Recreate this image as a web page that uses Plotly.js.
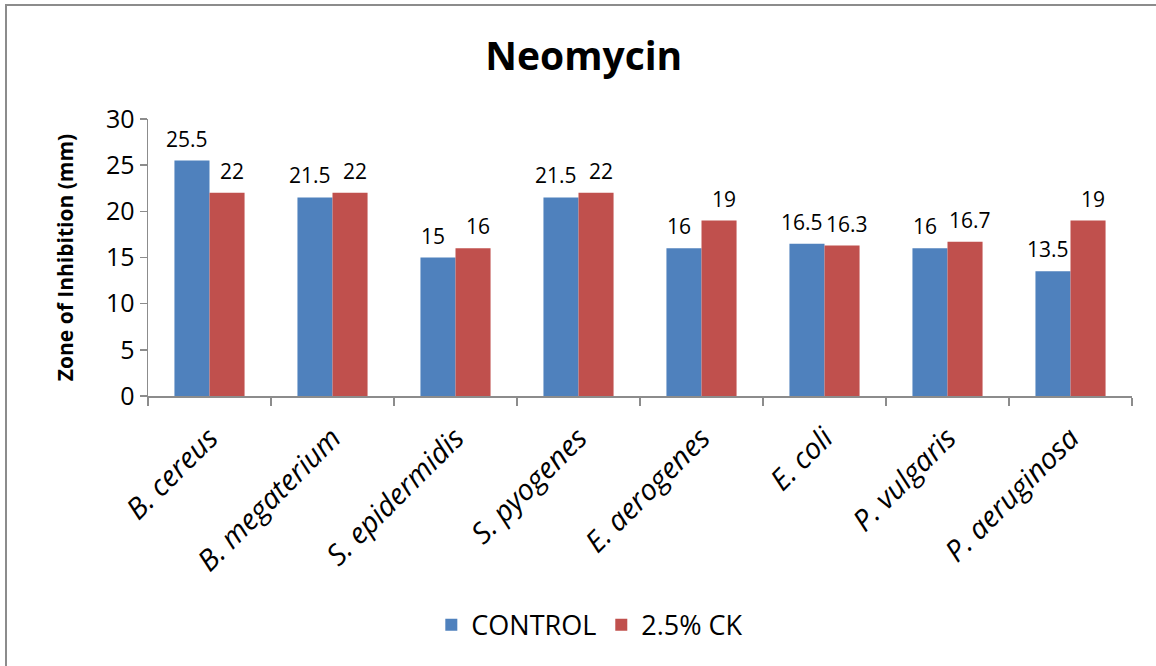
<!DOCTYPE html>
<html>
<head>
<meta charset="utf-8">
<script src="https://cdn.plot.ly/plotly-3.0.1.min.js"></script>
<style>
html,body{margin:0;padding:0;overflow:hidden;background:#fff;}
#chart{width:1156px;height:666px;position:relative;}
#frame{position:absolute;left:5px;top:4px;width:1300px;height:800px;border-left:2px solid #8c8c8c;border-top:2px solid #8c8c8c;pointer-events:none;}
</style>
</head>
<body>
<div style="position:relative;width:1156px;height:666px;overflow:hidden;">
<div id="chart"></div>
<div id="frame"></div>
</div>
<script>
const categories = ["B. cereus","B. megaterium","S. epidermidis","S. pyogenes","E. aerogenes","E. coli","P. vulgaris","P. aeruginosa"];
const controlValues = [25.5, 21.5, 15, 21.5, 16, 16.5, 16, 13.5];
const ckValues = [22, 22, 16, 22, 19, 16.3, 16.7, 19];
const seriesNames = ["CONTROL", "2.5% CK"];
const colors = ["#4f81bd", "#c0504d"];
const FONT = "Open Sans, Liberation Sans, sans-serif";

const W = 1156, H = 666;
const M = {l: 148, r: 24, t: 119, b: 270};
const BARGAP = 0.43;
const tickText = categories.map(c => "<i>" + c + "</i>");

const mk = (name, vals, color) => ({
  type: "bar", name: name, x: categories, y: vals,
  marker: {color: color, line: {width: 0}},
  hoverinfo: "skip"
});

const allSeries = [controlValues, ckValues];
const data = allSeries.map((v, i) => mk(seriesNames[i], v, colors[i]));

// data labels: placed at each bar via the axes, offset by half a bar width (+ small outward nudge)
const plotW = W - M.l - M.r;
const barPx = plotW / categories.length * (1 - BARGAP) / allSeries.length;
const nudge = 5;
const annotations = [];
allSeries.forEach((vals, s) => {
  const dir = s === 0 ? -1 : 1;
  vals.forEach((v, i) => {
    annotations.push({
      x: categories[i], y: v, xref: "x", yref: "y",
      text: String(v), showarrow: false,
      xanchor: "center", yanchor: "bottom",
      xshift: dir * (barPx / 2 + nudge), yshift: 6,
      font: {family: FONT, size: 21, color: "#000"}
    });
  });
});

const layout = {
  width: W, height: H,
  margin: M,
  paper_bgcolor: "#fff", plot_bgcolor: "#fff",
  font: {family: FONT, color: "#000"},
  title: {text: "<b>Neomycin</b>", font: {family: FONT, size: 39, color: "#000"}, x: 0.505, xanchor: "center", y: 0.915, yanchor: "middle"},
  bargap: BARGAP, bargroupgap: 0,
  showlegend: true,
  legend: {orientation: "h", x: 0.449, xanchor: "center", y: -0.827, yanchor: "middle", font: {family: FONT, size: 27, color: "#000"}, itemwidth: 30, traceorder: "normal"},
  annotations: annotations,
  xaxis: {
    type: "category", tickmode: "array", tickvals: categories, ticktext: tickText,
    tickangle: -45, tickfont: {family: FONT, size: 29, color: "#000"},
    ticklabelstandoff: 12,
    showline: true, linecolor: "#8c8c8c", linewidth: 1.5,
    ticks: "outside", tickson: "boundaries", ticklen: 8, tickcolor: "#8c8c8c", tickwidth: 1.5,
    showgrid: false, zeroline: false, fixedrange: true
  },
  yaxis: {
    range: [0, 30], tickmode: "linear", tick0: 0, dtick: 5,
    tickfont: {family: FONT, size: 25, color: "#000"},
    showline: true, linecolor: "#8c8c8c", linewidth: 1.5,
    ticks: "outside", ticklen: 7, tickcolor: "#8c8c8c", tickwidth: 1.5,
    showgrid: false, zeroline: false, fixedrange: true,
    title: {text: "<b>Zone of Inhibition (mm)</b>", font: {family: FONT, size: 21, color: "#000"}, standoff: 26}
  }
};

Plotly.newPlot("chart", data, layout, {displayModeBar: false, staticPlot: true});
</script>
</body>
</html>
